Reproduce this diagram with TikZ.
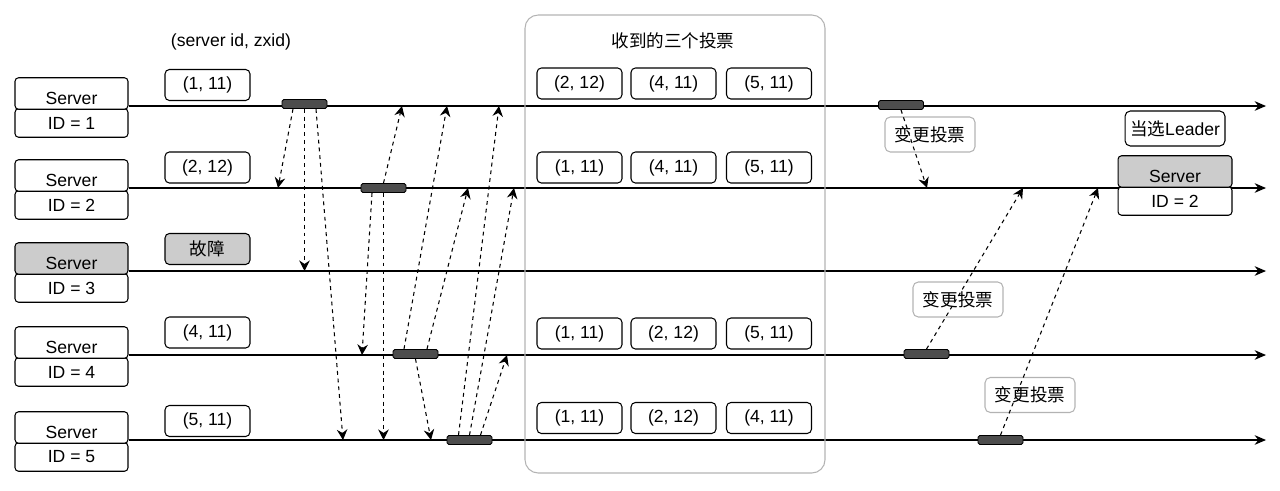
\documentclass[tikz,border=0pt]{standalone}
\usepackage{fontspec}
\setmainfont{Liberation Sans}
\newfontfamily\cjk{Noto Sans CJK SC}
\usetikzlibrary{calc, arrows.meta}

\definecolor{srvgray}{HTML}{CCCCCC}
\definecolor{blockgray}{HTML}{4D4D4D}
\definecolor{framegray}{HTML}{B3B3B3}

\tikzset{
	srvtop/.style={draw, line width=0.6pt, fill=white, rounded corners=2pt, minimum width=2.26cm, minimum height=0.63cm, inner sep=0pt, text height=12pt, text depth=0pt},
	srvid/.style={draw, line width=0.6pt, fill=white, rounded corners=2pt, minimum width=2.26cm, minimum height=0.57cm, inner sep=0pt},
	vote/.style={draw, line width=0.6pt, rounded corners=2.5pt, minimum width=1.7cm, minimum height=0.62cm, inner sep=0pt},
	block/.style={draw, line width=0.5pt, fill=blockgray, rounded corners=1pt, minimum width=0.9cm, minimum height=0.18cm, inner sep=0pt},
	note/.style={draw=framegray, line width=0.6pt, rounded corners=3pt, minimum width=1.8cm, minimum height=0.7cm, inner sep=0pt},
	timeline/.style={line width=0.75pt, -{Stealth[length=6.5pt, width=5.5pt]}},
	vote msg/.style={line width=0.6pt, dash pattern=on 2.2pt off 2.2pt, -{Stealth[length=6pt, width=6pt, inset=2pt]}},
}

\begin{document}
\begin{tikzpicture}[x=0.02cm, y=-0.02cm]
	\useasboundingbox (0,0) rectangle (1280,490);

	% servers and their time lines
	\foreach \i/\y/\c in {1/106/white, 2/188/white, 3/271/srvgray, 4/355/white, 5/440/white} {
		\node[srvid] (id\i) at (71.5, \y+17) {ID = \i};
		\node[srvtop, fill=\c] (s\i) at (71.5, \y-12.5) {Server};
		\coordinate (e\i) at (1266, \y);
		\draw[timeline] (s\i.east |- e\i) -- (e\i);
	}

	% first votes
	\node (key) at (231, 42) {(server id, zxid)};
	\node[vote] (v1) at (207.5, 85) {(1, 11)};
	\node[vote] (v2) at (207.5, 167.5) {(2, 12)};
	\node[vote, fill=srvgray] (v3) at (207.5, 249) {\cjk 故障};
	\node[vote] (v4) at (207.5, 332.5) {(4, 11)};
	\node[vote] (v5) at (207.5, 421) {(5, 11)};

	% received votes
	\draw[framegray, line width=0.6pt, rounded corners=7.5pt] (525,15) rectangle (825,473);
	\node (inbox) at (673, 41) {\cjk 收到的三个投票};
	\foreach \i/\y/\a/\b/\c in {1/83.5/{(2, 12)}/{(4, 11)}/{(5, 11)}, 2/167.5/{(1, 11)}/{(4, 11)}/{(5, 11)}, 4/333.5/{(1, 11)}/{(2, 12)}/{(5, 11)}, 5/418/{(1, 11)}/{(2, 12)}/{(4, 11)}} {
		\node[vote] (r\i-a) at (579.5, \y) {\a};
		\node[vote] (r\i-b) at (673.5, \y) {\b};
		\node[vote] (r\i-c) at (769, \y) {\c};
	}

	% sending votes
	\node[block] (b1) at (304.5, 104) {};
	\node[block] (b2) at (383.5, 188) {};
	\node[block] (b4) at (415.5, 354) {};
	\node[block] (b5) at (469.5, 440) {};

	\coordinate (p12) at (278, 188);
	\coordinate (p13) at (304.5, 271);
	\coordinate (p15) at (343, 440);
	\draw[vote msg] ($(b1.south)+(-11.5,0)$) -- (p12);
	\draw[vote msg] (b1.south) -- (p13);
	\draw[vote msg] ($(b1.south)+(11.5,0)$) -- (p15);

	\coordinate (p21) at (402, 106);
	\coordinate (p24) at (362, 355);
	\coordinate (p25) at (383.5, 440);
	\draw[vote msg] (b2.north) -- (p21);
	\draw[vote msg] ($(b2.south)+(-11.5,0)$) -- (p24);
	\draw[vote msg] (b2.south) -- (p25);

	\coordinate (p41) at (447, 106);
	\coordinate (p42) at (468, 188);
	\coordinate (p45) at (431, 440);
	\draw[vote msg] ($(b4.north)+(-11.5,0)$) -- (p41);
	\draw[vote msg] ($(b4.north)+(11.5,0)$) -- (p42);
	\draw[vote msg] (b4.south) -- (p45);

	\coordinate (p51) at (499, 106);
	\coordinate (p52) at (514, 188);
	\coordinate (p54) at (507, 355);
	\draw[vote msg] ($(b5.north)+(-11,0)$) -- (p51);
	\draw[vote msg] (b5.north) -- (p52);
	\draw[vote msg] ($(b5.north)+(11,0)$) -- (p54);

	% changed votes
	\node[block] (c1) at (901, 105) {};
	\node[block] (c4) at (926.5, 354) {};
	\node[block] (c5) at (1000.5, 440) {};
	\node[note] (n1) at (930, 134.5) {\cjk 变更投票};
	\node[note] (n4) at (958, 299.5) {\cjk 变更投票};
	\node[note] (n5) at (1030, 395) {\cjk 变更投票};

	\coordinate (q12) at (927, 188);
	\coordinate (q42) at (1023, 188);
	\coordinate (q52) at (1098, 188);
	\draw[vote msg] (c1.south) -- (q12);
	\draw[vote msg] (c4.north) -- (q42);
	\draw[vote msg] (c5.north) -- (q52);

	% leader
	\node[draw, line width=0.6pt, rounded corners=3pt, minimum width=2cm, minimum height=0.7cm, inner sep=1pt] (lead) at (1175, 128.5) {{\cjk 当选}Leader};
	\node[srvid, minimum width=2.28cm] (wid2) at (1175, 201) {ID = 2};
	\node[srvtop, fill=srvgray, minimum width=2.28cm] (w2) at (1175, 171.5) {Server};
\end{tikzpicture}
\end{document}
